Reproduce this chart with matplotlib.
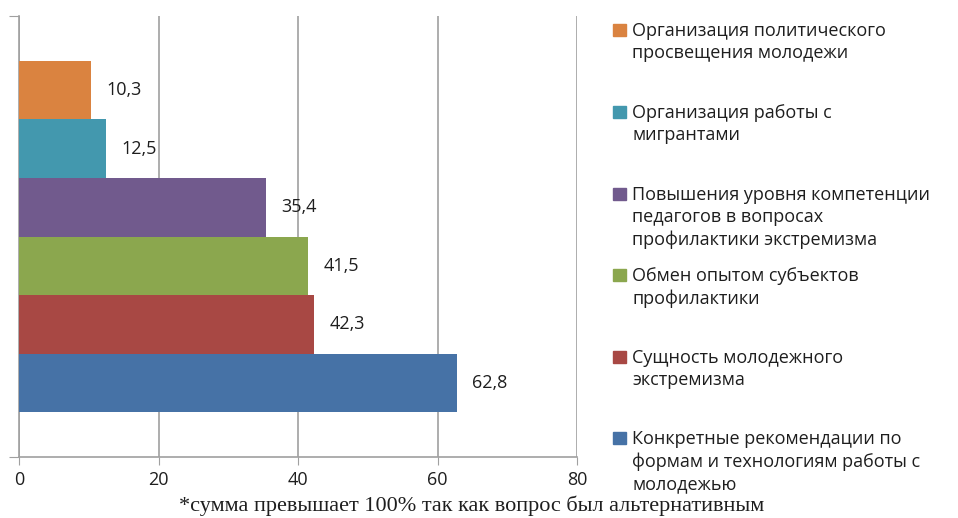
import matplotlib.pyplot as plt
from matplotlib.patches import Rectangle

# data (bottom to top)
labels = [
    "Конкретные рекомендации по\nформам и технологиям работы с\nмолодежью",
    "Сущность молодежного\nэкстремизма",
    "Обмен опытом субъектов\nпрофилактики",
    "Повышения уровня компетенции\nпедагогов в вопросах\nпрофилактики экстремизма",
    "Организация работы с\nмигрантами",
    "Организация политического\nпросвещения молодежи",
]
values = [62.8, 42.3, 41.5, 35.4, 12.5, 10.3]
value_text = ["62,8", "42,3", "41,5", "35,4", "12,5", "10,3"]
colors = ["#4672A6", "#A84844", "#8BA74E", "#715A8D", "#4398AE", "#DA8340"]
xticks = [0, 20, 40, 60, 80]

plt.rcParams["font.family"] = ["Open Sans", "DejaVu Sans"]
txt_color = "#1E1E1E"

fig = plt.figure(figsize=(9.58, 5.18), dpi=100)
ax = fig.add_axes([19 / 958, 61 / 518, 558 / 958, 441 / 518])

y = list(range(len(values)))
ax.barh(y, values, height=1.0, color=colors, zorder=3)
for i in y:
    ax.annotate(value_text[i], (values[i], i), xytext=(11, 0), textcoords="offset points",
                va="center", ha="left", fontsize=13, color=txt_color)

ax.set_xlim(0, 80)
ax.set_ylim(-1.26, 6.26)
ax.set_xticks(xticks)
ax.set_xticklabels([str(t) for t in xticks], fontsize=13, color=txt_color)
ax.set_yticks([-1.26, 6.26])
ax.set_yticklabels([])
ax.tick_params(axis="x", length=6, color="#A0A0A0", pad=4)
ax.tick_params(axis="y", length=7, color="#A0A0A0")
ax.grid(axis="x", color="#A0A0A0", linewidth=1.2, zorder=0)
ax.spines["top"].set_visible(False)
ax.spines["right"].set_visible(False)
ax.spines["left"].set_color("#A0A0A0")
ax.spines["bottom"].set_color("#A0A0A0")
ax.spines["left"].set_linewidth(1.2)
ax.spines["bottom"].set_linewidth(1.2)

# legend drawn by hand, top entry first (first-line centres in px)
centres = [30, 112, 194, 275, 357, 438]
for k, c in enumerate(centres):
    i = len(values) - 1 - k
    fig.patches.append(Rectangle((613 / 958, 1 - (c + 6) / 518), 13 / 958, 12 / 518,
                                 transform=fig.transFigure, color=colors[i]))
    fig.text(632 / 958, 1 - (c - 8) / 518, labels[i], ha="left", va="top",
             fontsize=13, color=txt_color, linespacing=1.3)

fig.text(472 / 958, 1 - 506 / 518, "*сумма превышает 100% так как вопрос был альтернативным",
         ha="center", va="center", family="Liberation Serif", fontsize=16, color=txt_color)

fig.savefig("out.png", dpi=100)
